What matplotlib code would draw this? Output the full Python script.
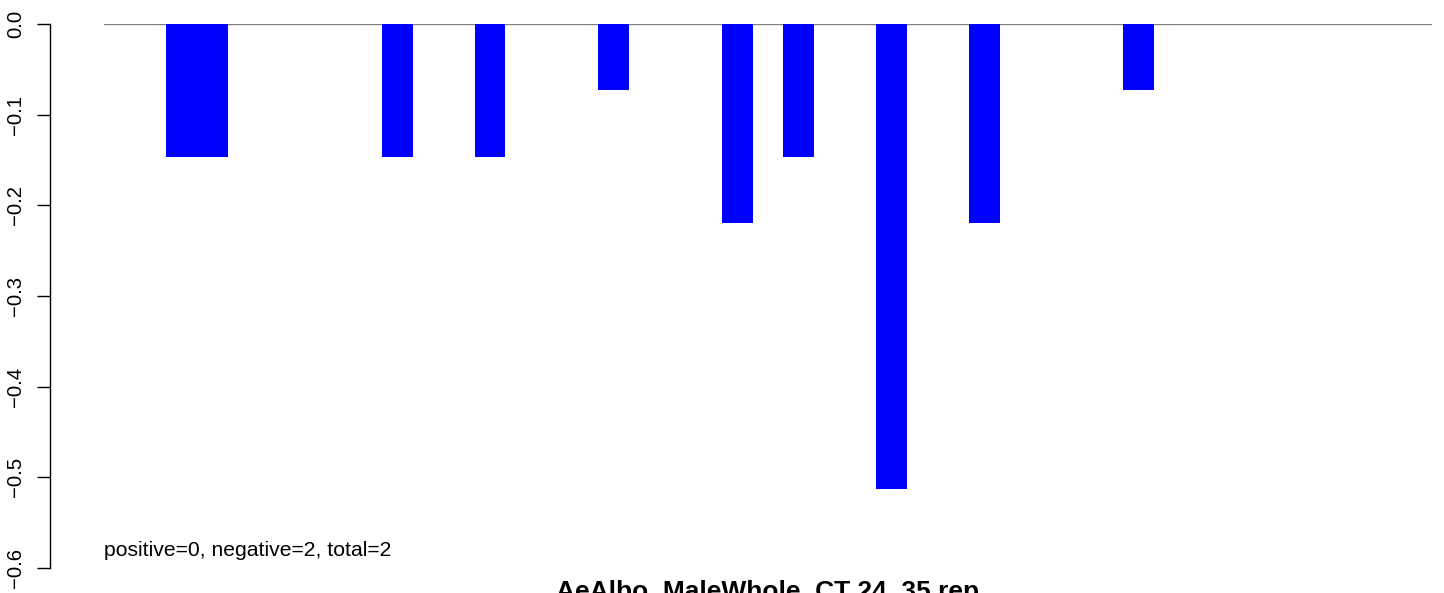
import matplotlib
matplotlib.use("Agg")
import matplotlib.pyplot as plt
import numpy as np

# per-slot values (one bar per slot, empty slots are zero)
bar_values = [0, 0, -0.1467, -0.1467, 0, 0, 0, 0, 0, -0.1467,
              0, 0, -0.1467, 0, 0, 0, -0.0733, 0, 0, 0,
              -0.22, 0, -0.1467, 0, 0, -0.5133, 0, 0, -0.22, 0,
              0, 0, 0, -0.0733, 0, 0, 0, 0, 0, 0,
              0, 0, 0]
y_ticks = [0.0, -0.1, -0.2, -0.3, -0.4, -0.5, -0.6]
count_text = "positive=0, negative=2, total=2"
title_text = "AeAlbo_MaleWhole_CT 24_35 rep"

plt.rcParams['font.family'] = ['Liberation Sans', 'DejaVu Sans']

W, H = 1444, 593
fig = plt.figure(figsize=(W / 100, H / 100), dpi=100)
# plot region in pixels: x 104..1432, y 24..568
ax = fig.add_axes([104 / W, (H - 568) / H, (1432 - 104) / W, (568 - 24) / H])

x = np.arange(len(bar_values))
ax.bar(x, bar_values, width=1.0, align='edge', color='#0000ff', linewidth=0)
ax.axhline(0, color='#808080', linewidth=1.0, zorder=0)

ax.set_xlim(0, len(bar_values))
ax.set_ylim(-0.6, 0)

for s in ['top', 'right', 'bottom']:
    ax.spines[s].set_visible(False)
ax.spines['left'].set_position(('outward', 54 * 0.72))
ax.spines['left'].set_bounds(-0.6, 0)
ax.spines['left'].set_linewidth(1.0)
ax.set_xticks([])
ax.set_yticks(y_ticks)
ax.set_yticklabels([("%.1f" % v).replace("-", "\u2212") for v in y_ticks],
                   rotation=90, va='center')
ax.tick_params(axis='y', length=9.4, width=1.0, pad=8.5, labelsize=14.6)

ax.text(0, (568 - 556) / 544, count_text, transform=ax.transAxes,
        ha='left', va='baseline', fontsize=15.2)
# main title sits below the plot and is clipped by the figure edge, as in the original
ax.text(0.5, (568 - 599) / 544, title_text, transform=ax.transAxes,
        ha='center', va='baseline', fontsize=19, fontweight='bold')

fig.savefig('out.png', dpi=100)
